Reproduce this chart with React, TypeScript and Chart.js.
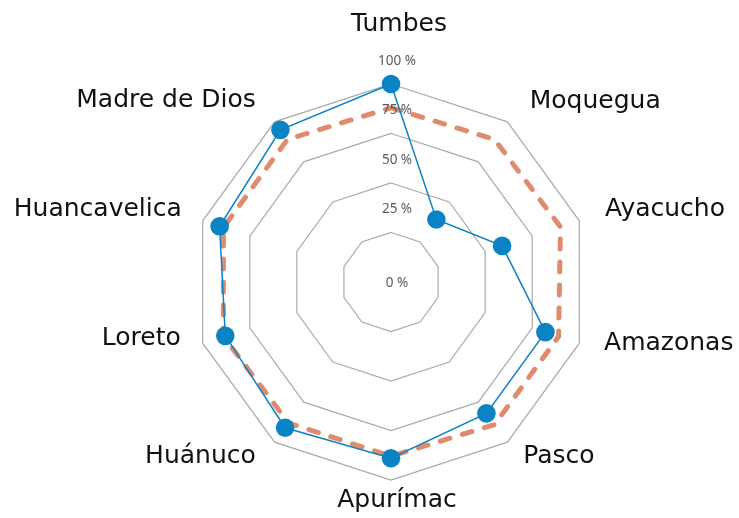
import React, { useEffect, useRef } from "react";
import { Chart, registerables } from "chart.js";

Chart.register(...registerables);

const categories = [
  "Tumbes",
  "Moquegua",
  "Ayacucho",
  "Amazonas",
  "Pasco",
  "Apurímac",
  "Huánuco",
  "Loreto",
  "Huancavelica",
  "Madre de Dios",
];
const regionValues = [100, 39, 59, 82, 82, 89, 91, 88, 91, 95];
const averageValues = [88, 89, 90, 89, 89, 88, 88, 89, 89, 89];
const tickValues = [0, 25, 50, 75, 100];
const tickLabel = (v: number) => `${v} %`;

// label placement: extra distance beyond the outer ring, and nudges
const LABEL_GAP = [60, 38, 27, 26, 27, 20, 32, 23, 22, 32];
const LABEL_DY = [0, 10, -3, -8, -8, 0, -12, -12, -5, 5];
const LABEL_DX = [8, 0, 0, 0, 0, 6, 0, 0, 0, 0];

const LABEL_FONT = '25px "DejaVu Sans", sans-serif';
const TICK_FONT = '13.5px "Noto Sans", sans-serif';

const labelsPlugin = {
  id: "customLabels",
  afterDatasetsDraw(chart: any) {
    const scale = chart.scales.r;
    const ctx = chart.ctx;
    ctx.save();
    ctx.font = TICK_FONT;
    ctx.fillStyle = "#5a5a5a";
    ctx.textAlign = "center";
    ctx.textBaseline = "middle";
    tickValues.forEach((v) => {
      const d = scale.getDistanceFromCenterForValue(v);
      const y = v === 0 ? scale.yCenter + 1 : scale.yCenter - d - 23;
      ctx.fillText(tickLabel(v), scale.xCenter + 6, y);
    });
    ctx.font = LABEL_FONT;
    ctx.fillStyle = "#111111";
    const outer = scale.getDistanceFromCenterForValue(100);
    categories.forEach((name, i) => {
      const p = scale.getPointPosition(i, outer + LABEL_GAP[i]);
      const dx = p.x - scale.xCenter;
      let align: CanvasTextAlign = "center";
      if (dx > 1) align = "left";
      else if (dx < -1) align = "right";
      ctx.textAlign = align;
      ctx.textBaseline = "middle";
      ctx.fillText(name, p.x + LABEL_DX[i], p.y + LABEL_DY[i]);
    });
    ctx.restore();
  },
};

export default function App() {
  const ref = useRef<HTMLCanvasElement>(null);
  useEffect(() => {
    if (!ref.current) return;
    const chart = new Chart(ref.current, {
      type: "radar",
      data: {
        labels: categories,
        datasets: [
          {
            label: "Región",
            data: regionValues,
            borderColor: "#0a83c5",
            backgroundColor: "#0a83c5",
            borderWidth: 1.5,
            pointRadius: 9.3,
            pointHoverRadius: 9.3,
            pointBorderWidth: 0,
            pointBackgroundColor: "#0a83c5",
            fill: false,
          },
          {
            label: "Promedio",
            data: averageValues,
            borderColor: "#df8b6e",
            backgroundColor: "#df8b6e",
            borderWidth: 5,
            borderDash: [10, 13],
            borderCapStyle: "round",
            pointRadius: 0,
            fill: false,
          },
        ],
      },
      options: {
        animation: false,
        responsive: true,
        maintainAspectRatio: false,
        layout: { padding: { left: 193, right: 150, top: 84, bottom: 38 } },
        plugins: { legend: { display: false }, tooltip: { enabled: false } },
        scales: {
          r: {
            min: 0,
            max: 100,
            ticks: { stepSize: 25, display: false },
            grid: { color: "#aaaaaa", lineWidth: 1.2 },
            angleLines: { display: false },
            pointLabels: { display: false },
          },
        },
      },
      plugins: [labelsPlugin],
    });
    return () => chart.destroy();
  }, []);
  return (
    <div style={{ position: "absolute", left: 0, top: 0, width: 739, height: 518, background: "#fff" }}>
      <canvas ref={ref} />
    </div>
  );
}
